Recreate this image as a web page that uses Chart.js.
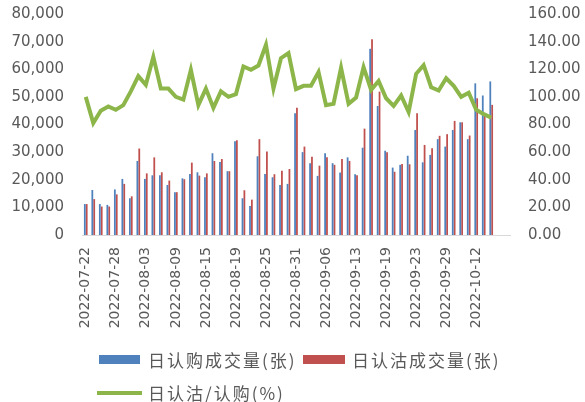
<!DOCTYPE html>
<html>
<head>
<meta charset="utf-8">
<script src="https://cdn.jsdelivr.net/npm/chart.js@4"></script>
<style>
  body { margin: 0; background: #fff; }
  #wrap { position: relative; width: 585px; height: 402px; }
  .legend { position: absolute; font-family: "Noto Sans CJK SC", sans-serif; font-size: 17px; letter-spacing: 2px; color: #595959; white-space: nowrap; }
  .sw { position: absolute; }
</style>
</head>
<body>
<div id="wrap">
  <canvas id="optChart"></canvas>
  <div class="sw" style="left:99px;top:355px;width:41px;height:9px;background:#4F81BD"></div>
  <div class="legend" style="left:148px;top:347px">日认购成交量(张)</div>
  <div class="sw" style="left:303px;top:355px;width:42px;height:9px;background:#C0504D"></div>
  <div class="legend" style="left:352px;top:347px">日认沽成交量(张)</div>
  <div class="sw" style="left:97px;top:391px;width:45px;height:4px;background:#8DB64A"></div>
  <div class="legend" style="left:148px;top:380px">日认沽/认购(%)</div>
</div>
<script>
  const dates = ['2022-07-22', '2022-07-25', '2022-07-26', '2022-07-27', '2022-07-28', '2022-07-29',
    '2022-08-01', '2022-08-02', '2022-08-03', '2022-08-04', '2022-08-05', '2022-08-08', '2022-08-09',
    '2022-08-10', '2022-08-11', '2022-08-12', '2022-08-15', '2022-08-16', '2022-08-17', '2022-08-18',
    '2022-08-19', '2022-08-22', '2022-08-23', '2022-08-24', '2022-08-25', '2022-08-26', '2022-08-29',
    '2022-08-30', '2022-08-31', '2022-09-01', '2022-09-02', '2022-09-05', '2022-09-06', '2022-09-07',
    '2022-09-08', '2022-09-09', '2022-09-13', '2022-09-14', '2022-09-15', '2022-09-16', '2022-09-19',
    '2022-09-20', '2022-09-21', '2022-09-22', '2022-09-23', '2022-09-26', '2022-09-27', '2022-09-28',
    '2022-09-29', '2022-09-30', '2022-10-10', '2022-10-11', '2022-10-12', '2022-10-13', '2022-10-14',
    '2022-10-17', '2022-10-18'];

  // 日认购成交量(张)
  const callVol = [11200, 16300, 11200, 10900, 16500, 20300, 13300, 26800, 20300, 21600,
    21600, 18100, 15500, 20500, 22100, 22700, 20900, 29600, 26400, 23100,
    33900, 13300, 10500, 28500, 22100, 20900, 18100, 18500, 44100, 30000,
    26000, 21400, 29600, 26000, 22600, 28100, 22000, 31600, 67400, 46700,
    30500, 24400, 25400, 28700, 38000, 26300, 29000, 34700, 32000, 38000,
    40800, 34700, 54900, 50500, 55600, null, null];

  // 日认沽成交量(张)
  const putVol = [11200, 13000, 10300, 10300, 14700, 18500, 14000, 31300, 22300, 28100,
    22700, 19700, 15500, 20200, 26200, 21500, 22300, 26800, 27500, 23100,
    34300, 16200, 12800, 34700, 30200, 22000, 23300, 23900, 46100, 32000,
    28300, 25100, 28100, 25400, 27500, 26800, 21600, 38500, 70900, 51900,
    30000, 22900, 25700, 25600, 44100, 32600, 31400, 35900, 36500, 41300,
    40800, 36000, 49500, 44200, 47100, null, null];

  // 日认沽/认购(%)
  const ratio = [100, 81, 90, 93, 90.6, 94, 104, 115, 108.7, 129,
    106, 106, 100, 98, 119.6, 94, 106, 92, 104, 100,
    102, 122, 119.6, 122.7, 137.7, 106, 128, 131.7, 105.6, 108,
    108, 118, 94, 95, 121, 95, 99.5, 121.5, 105, 111.5,
    99, 93.5, 101, 89, 116.7, 123, 107, 104.6, 113.5, 108,
    100, 103, 90.6, 87.5, 85, null, null];

  const leftTicks = [0, 10000, 20000, 30000, 40000, 50000, 60000, 70000, 80000];
  const rightTicks = [0, 20, 40, 60, 80, 100, 120, 140, 160];

  const grey = '#595959';
  const tickFont = { family: 'DejaVu Sans', size: 14 };

  // fixed side width, no extra top/bottom room from tick labels
  function fitSide(w) {
    return function (axis) {
      axis.width = w;
      axis.paddingTop = 0;
      axis.paddingBottom = 0;
    };
  }

  const ctx = document.getElementById('optChart');

  new Chart(ctx, {
    data: {
      labels: dates,
      datasets: [
        {
          type: 'line',
          label: '日认沽/认购(%)',
          data: ratio,
          yAxisID: 'y1',
          borderColor: '#8DB64A',
          borderWidth: 4,
          pointRadius: 0,
          tension: 0,
          order: 0
        },
        {
          type: 'bar',
          label: '日认购成交量(张)',
          data: callVol,
          yAxisID: 'y',
          backgroundColor: '#4F81BD',
          categoryPercentage: 0.5,
          barPercentage: 0.95,
          order: 1
        },
        {
          type: 'bar',
          label: '日认沽成交量(张)',
          data: putVol,
          yAxisID: 'y',
          backgroundColor: '#C0504D',
          categoryPercentage: 0.5,
          barPercentage: 0.95,
          order: 1
        }
      ]
    },
    options: {
      responsive: true,
      maintainAspectRatio: false,
      animation: false,
      layout: {
        padding: { top: 14, left: 10, right: 5, bottom: 72 }
      },
      plugins: {
        legend: { display: false },
        tooltip: { enabled: false }
      },
      scales: {
        x: {
          offset: true,
          grid: { display: false, drawTicks: false },
          border: { display: true, color: '#d9d9d9', width: 1 },
          afterFit: function (axis) { axis.height = 95; },
          ticks: {
            color: grey,
            font: tickFont,
            autoSkip: false,
            minRotation: 90,
            maxRotation: 90,
            padding: 12,
            callback: function (v, i) {
              return (i % 4 === 0 && i <= 52) ? dates[i] : '';
            }
          }
        },
        y: {
          position: 'left',
          min: 0,
          max: 80000,
          grid: { display: false, drawTicks: false },
          border: { display: false },
          afterFit: fitSide(72),
          afterBuildTicks: function (axis) {
            axis.ticks = leftTicks.map(v => ({ value: v }));
          },
          ticks: {
            color: grey,
            font: { family: 'DejaVu Sans', size: 15 },
            padding: 18,
            callback: v => v.toLocaleString('en-US')
          }
        },
        y1: {
          position: 'right',
          min: 0,
          max: 160,
          grid: { display: false, drawTicks: false },
          border: { display: false },
          afterFit: fitSide(70),
          afterBuildTicks: function (axis) {
            axis.ticks = rightTicks.map(v => ({ value: v }));
          },
          ticks: {
            color: grey,
            font: { family: 'DejaVu Sans', size: 15 },
            padding: 18,
            callback: v => v.toFixed(2)
          }
        }
      }
    }
  });
</script>
</body>
</html>
